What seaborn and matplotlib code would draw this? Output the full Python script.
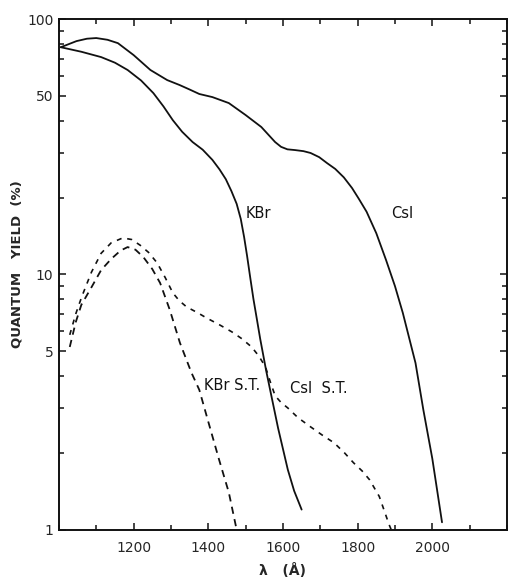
import numpy as np
import pandas as pd
import matplotlib
matplotlib.use("Agg")
import matplotlib.pyplot as plt
import matplotlib.ticker as mticker
import seaborn as sns

# values (wavelength in Angstrom, yield in %)
csi_wl = [1005, 1047, 1075, 1100, 1130, 1158, 1200, 1245, 1290, 1323, 1350, 1376,
          1411, 1455, 1500, 1542, 1579, 1595, 1612, 1632, 1655, 1674, 1697, 1718,
          1740, 1763, 1785, 1803, 1824, 1850, 1876, 1900, 1921, 1955, 1976, 2000, 2026]
csi_qy = [77.6, 82.0, 83.8, 84.3, 83.0, 80.5, 72.3, 63.2, 57.7, 55.2, 53.0, 50.9,
          49.5, 46.9, 42.1, 37.8, 33.0, 31.6, 30.9, 30.7, 30.4, 29.9, 28.8, 27.3,
          25.9, 24.0, 21.8, 19.8, 17.6, 14.5, 11.4, 9.0, 7.07, 4.50, 2.95, 1.90, 1.07]

kbr_wl = [1005, 1060, 1113, 1150, 1184, 1220, 1253, 1280, 1305, 1330, 1358, 1385,
          1411, 1430, 1447, 1462, 1476, 1487, 1496, 1504, 1512, 1521, 1530, 1539,
          1555, 1568, 1587, 1613, 1630, 1650]
kbr_qy = [77.6, 74.5, 71.0, 67.5, 63.2, 57.5, 51.3, 45.5, 40.2, 36.2, 33.0, 30.8,
          28.1, 25.8, 23.6, 21.2, 18.9, 16.5, 14.0, 11.8, 9.8, 8.0, 6.7, 5.6,
          4.2, 3.4, 2.5, 1.72, 1.42, 1.2]

kbr_st_wl = [1029, 1045, 1060, 1087, 1113, 1140, 1165, 1184, 1205, 1226, 1250, 1271,
             1297, 1324, 1355, 1376, 1400, 1429, 1455, 1476]
kbr_st_qy = [5.2, 6.5, 7.6, 8.9, 10.4, 11.5, 12.4, 12.8, 12.5, 11.7, 10.5, 9.26,
             7.26, 5.40, 4.12, 3.53, 2.65, 1.88, 1.40, 1.0]

csi_st_wl = [1029, 1045, 1061, 1087, 1113, 1140, 1171, 1195, 1218, 1240, 1263, 1285,
             1305, 1322, 1342, 1370, 1395, 1430, 1463, 1490, 1516, 1535, 1553, 1566,
             1579, 1595, 1613, 1640, 1674, 1705, 1737, 1765, 1789, 1812, 1832, 1858,
             1872, 1884, 1890]
csi_st_qy = [5.8, 7.0, 8.17, 10.2, 12.1, 13.3, 13.9, 13.7, 13.0, 12.2, 11.1, 9.7,
             8.47, 7.9, 7.46, 7.1, 6.76, 6.35, 5.96, 5.6, 5.2, 4.8, 4.35, 3.8,
             3.35, 3.15, 3.0, 2.75, 2.53, 2.35, 2.19, 2.0, 1.83, 1.7, 1.57, 1.35,
             1.18, 1.05, 1.0]

x_ticks = [1200, 1400, 1600, 1800, 2000]
y_ticks = [1, 5, 10, 50, 100]

sns.set_style("ticks")
plt.rcParams['font.family'] = ['DejaVu Sans']
plt.rcParams['xtick.direction'] = 'in'
plt.rcParams['ytick.direction'] = 'in'

fig = plt.figure(figsize=(5.08, 5.79), dpi=100)
ax = fig.add_axes([0.116, 0.085, 0.882, 0.882])

black = '#111111'
sns.lineplot(x=csi_wl, y=csi_qy, color=black, lw=1.3, sort=False, ax=ax)
sns.lineplot(x=kbr_wl, y=kbr_qy, color=black, lw=1.3, sort=False, ax=ax)
sns.lineplot(x=kbr_st_wl, y=kbr_st_qy, color=black, lw=1.3, sort=False, ax=ax,
             dashes=False, linestyle=(0, (4, 3)))
sns.lineplot(x=csi_st_wl, y=csi_st_qy, color=black, lw=1.2, sort=False, ax=ax,
             dashes=False, linestyle=(0, (3, 3.5)))

ax.set_yscale('log')
ax.set_xlim(1000, 2200)
ax.set_ylim(1, 100)

ax.set_xticks(x_ticks)
ax.xaxis.set_minor_locator(mticker.MultipleLocator(100))
ax.yaxis.set_major_locator(mticker.FixedLocator(y_ticks))
ax.yaxis.set_major_formatter(mticker.FixedFormatter([str(v) for v in y_ticks]))
ax.yaxis.set_minor_locator(mticker.LogLocator(base=10, subs=[2, 3, 4, 6, 7, 8, 9]))
ax.yaxis.set_minor_formatter(mticker.NullFormatter())

ax.tick_params(which='both', top=True, right=True, color=black, width=1.1)
ax.tick_params(which='major', length=5, labelsize=10)
ax.tick_params(axis='x', which='major', pad=8)
ax.tick_params(axis='y', which='major', pad=4)
ax.tick_params(which='minor', length=3.5)
for s in ax.spines.values():
    s.set_linewidth(1.4)
    s.set_color(black)

ax.set_xlabel('λ   (Å)', fontsize=10, fontweight='bold', labelpad=6)
ax.set_ylabel('QUANTUM   YIELD  (%)', fontsize=9.5, fontweight='bold')
ax.yaxis.set_label_coords(-0.08, 0.52)

txt = dict(fontsize=10.5, color=black, va='center')
ax.text(1500, 17.4, 'KBr', **txt)
ax.text(1889, 17.4, 'CsI', **txt)
ax.text(1389, 3.69, 'KBr S.T.', **txt)
ax.text(1618, 3.59, 'CsI  S.T.', **txt)

fig.savefig('out.png', dpi=100)
